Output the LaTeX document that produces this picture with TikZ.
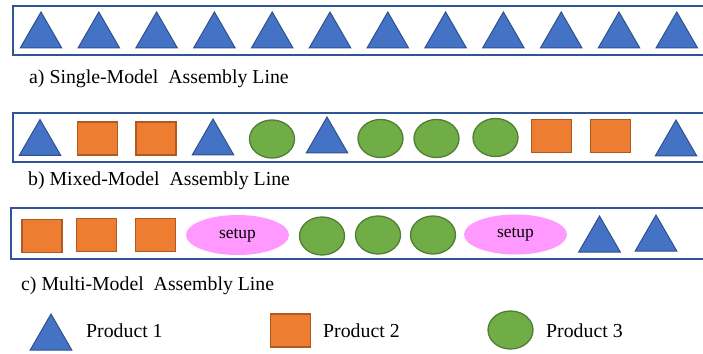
\documentclass[tikz,border=0pt]{standalone}
\usepackage{fontspec}
\setmainfont{Liberation Serif}
\usetikzlibrary{shapes.geometric}
\definecolor{triblue}{HTML}{4472C4}
\definecolor{triedge}{HTML}{2F528F}
\definecolor{sqorange}{HTML}{ED7D31}
\definecolor{sqedge}{HTML}{AE5A21}
\definecolor{cgreen}{HTML}{70AD47}
\definecolor{cedge}{HTML}{507E32}
\definecolor{setuppink}{HTML}{FF99FF}
\definecolor{lineblue}{HTML}{2F5597}
\tikzset{
  tri/.style={regular polygon, regular polygon sides=3, minimum size=48pt, inner sep=0pt, outer sep=0pt,
    fill=triblue, draw=triedge, line width=1pt, anchor=south},
  sq/.style={rectangle, minimum width=40pt, minimum height=33pt, inner sep=0pt, outer sep=0pt,
    fill=sqorange, draw=sqedge, line width=1.3pt},
  circ/.style={ellipse, minimum width=45pt, minimum height=38pt, inner sep=0pt, outer sep=0pt,
    fill=cgreen, draw=cedge, line width=1.3pt},
  setupe/.style={ellipse, minimum width=103pt, minimum height=40pt, inner sep=0pt, outer sep=0pt,
    fill=setuppink, font=\fontsize{17.5}{20}\selectfont},
  linebox/.style={draw=lineblue, line width=1.8pt},
  lbl/.style={anchor=base west, inner sep=0pt, font=\fontsize{19.8}{23}\selectfont},
}
\begin{document}
\begin{tikzpicture}[x=1pt,y=-1pt]
\useasboundingbox (0,0) rectangle (703,353);
\clip (0,0) rectangle (703,353);
% line boxes
\draw[linebox] (13,6) rectangle (710,55);
\draw[linebox] (13,112.7) rectangle (710,161.7);
\draw[linebox] (11,208) rectangle (710,259);
% row a
\foreach \i in {0,...,11} {
  \node[tri] (a\i) at ({41+57.8*\i},48) {};
}
\node[lbl] (la) at (29,83) {a) Single-Model\ \ Assembly Line};
% row b
\node[tri] (b1) at (40,155.5) {};
\node[sq] (b2) at (97.5,138.5) {};
\node[sq] (b3) at (156,138.5) {};
\node[tri] (b4) at (213,155) {};
\node[circ] (b5) at (272,139) {};
\node[tri] (b6) at (327,153) {};
\node[circ] (b7) at (380.5,138.5) {};
\node[circ] (b8) at (436.5,138.5) {};
\node[circ] (b9) at (495.5,137.5) {};
\node[sq] (b10) at (551.5,136) {};
\node[sq] (b11) at (610.5,136) {};
\node[tri] (b12) at (676,156) {};
\node[lbl] (lb) at (28,185.5) {b) Mixed-Model\ \ Assembly Line};
% row c
\node[sq] (c1) at (42,236) {};
\node[sq] (c2) at (96.5,235) {};
\node[sq] (c3) at (155.5,235) {};
\node[setupe] (c4) at (237.5,235) {setup};
\node[circ] (c5) at (322,236) {};
\node[circ] (c6) at (378,235) {};
\node[circ] (c7) at (433,235) {};
\node[setupe] (c8) at (515.5,234.5) {setup};
\node[tri] (c9) at (599.5,252) {};
\node[tri] (c10) at (656,251) {};
\node[lbl] (lc) at (21,290.5) {c) Multi-Model\ \ Assembly Line};
% legend
\node[tri] (k1) at (51,350) {};
\node[lbl] (t1) at (86,337.3) {Product 1};
\node[sq] (k2) at (290.5,330.5) {};
\node[lbl] (t2) at (323,337.3) {Product 2};
\node[circ] (k3) at (510.5,330) {};
\node[lbl] (t3) at (546,337.3) {Product 3};
\end{tikzpicture}
\end{document}
